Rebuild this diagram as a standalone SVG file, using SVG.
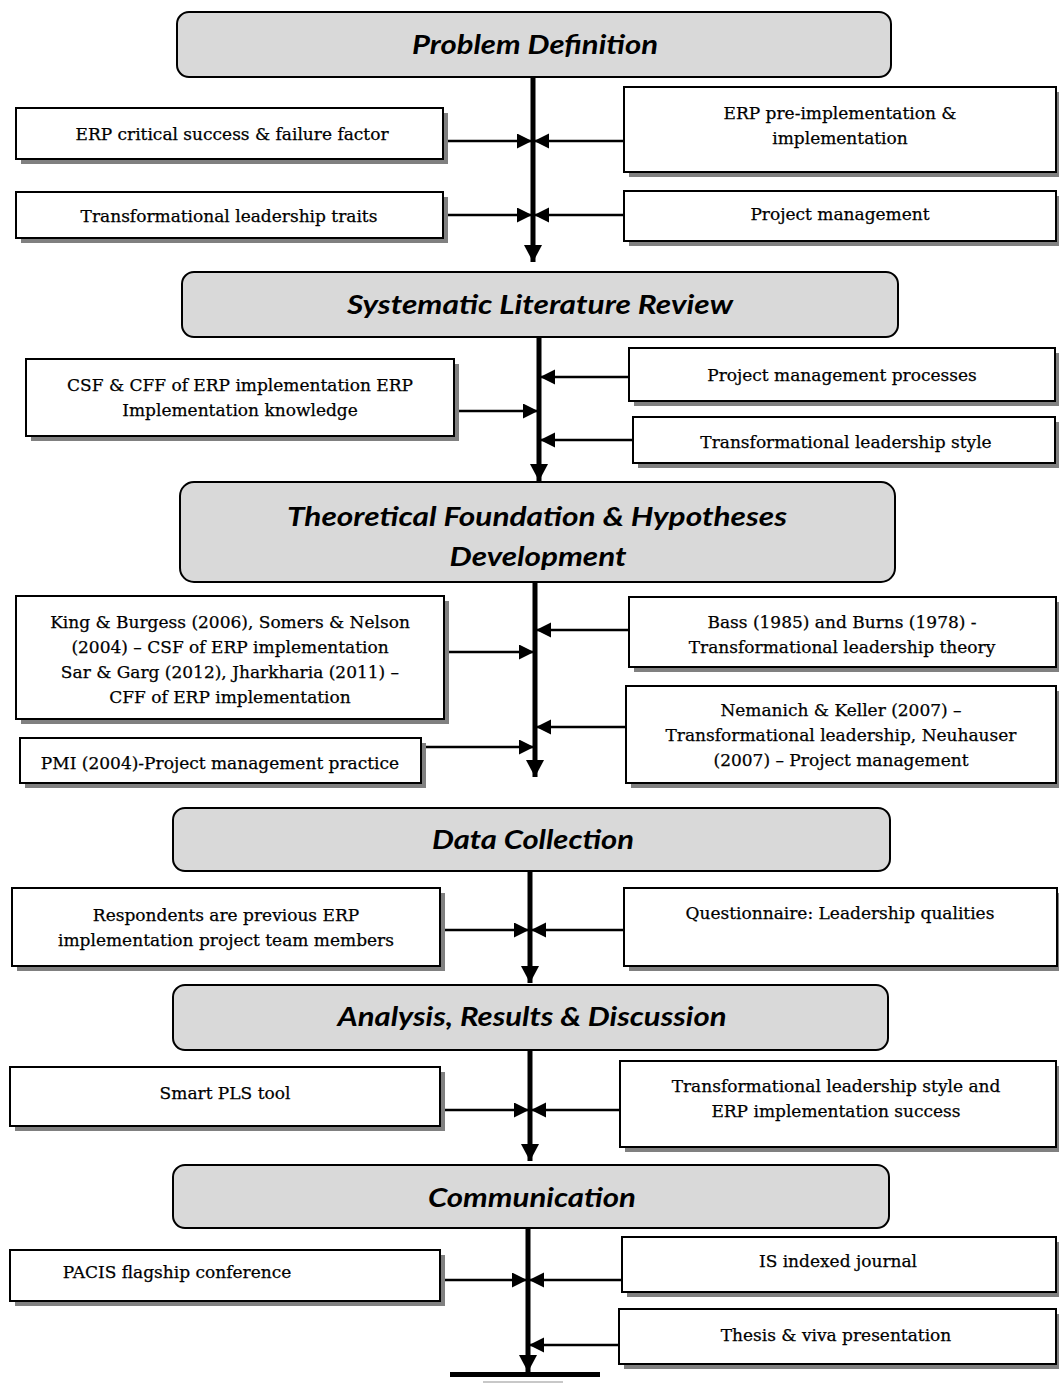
<svg xmlns="http://www.w3.org/2000/svg" width="1059" height="1383" viewBox="0 0 1059 1383">
<style>
.stage{fill:#d9d9d9;stroke:#000;stroke-width:2}
.stxt{font-family:Lato,"Open Sans",sans-serif;font-weight:bold;font-style:italic;font-size:27px;fill:#000;text-anchor:middle}
.shadow{fill:#808080}
.box{fill:#fff;stroke:#000;stroke-width:2}
.btxt{font-family:"DejaVu Serif","Liberation Serif",serif;font-size:17px;fill:#000;stroke:#000;stroke-width:0.25;text-anchor:middle}
.h{stroke:#000;stroke-width:2.5;fill:none;marker-end:url(#ah)}
.v{stroke:#000;stroke-width:5;fill:none;marker-end:url(#av)}
</style>
<defs>
<marker id="ah" markerUnits="userSpaceOnUse" markerWidth="16" markerHeight="16" refX="15" refY="7.5" orient="auto">
<path d="M0,0 L15,7.5 L0,15 z" fill="#000"/>
</marker>
<marker id="av" markerUnits="userSpaceOnUse" markerWidth="20" markerHeight="20" refX="17" refY="9" orient="auto">
<path d="M0,0 L17,9 L0,18 z" fill="#000"/>
</marker>
</defs>

<g id="connectors">
<line class="v" x1="533" y1="77" x2="533" y2="262"/>
<line class="h" x1="443" y1="141" x2="532" y2="141"/>
<line class="h" x1="624" y1="141" x2="534" y2="141"/>
<line class="h" x1="443" y1="215" x2="532" y2="215"/>
<line class="h" x1="624" y1="215" x2="534" y2="215"/>

<line class="v" x1="539" y1="337" x2="539" y2="481"/>
<line class="h" x1="454" y1="411" x2="538" y2="411"/>
<line class="h" x1="629" y1="377" x2="540" y2="377"/>
<line class="h" x1="633" y1="440" x2="540" y2="440"/>

<line class="v" x1="535" y1="582" x2="535" y2="777"/>
<line class="h" x1="444" y1="652" x2="534" y2="652"/>
<line class="h" x1="421" y1="747" x2="534" y2="747"/>
<line class="h" x1="629" y1="630" x2="536" y2="630"/>
<line class="h" x1="626" y1="727" x2="536" y2="727"/>

<line class="v" x1="530" y1="871" x2="530" y2="983"/>
<line class="h" x1="440" y1="930" x2="529" y2="930"/>
<line class="h" x1="624" y1="930" x2="531" y2="930"/>

<line class="v" x1="530" y1="1050" x2="530" y2="1161"/>
<line class="h" x1="440" y1="1110" x2="529" y2="1110"/>
<line class="h" x1="620" y1="1110" x2="531" y2="1110"/>

<line class="v" x1="528" y1="1228" x2="528" y2="1372"/>
<line class="h" x1="440" y1="1280" x2="527" y2="1280"/>
<line class="h" x1="622" y1="1280" x2="529" y2="1280"/>
<line class="h" x1="619" y1="1345" x2="529" y2="1345"/>
<rect x="450" y="1372" width="150" height="5" fill="#000"/>
<line x1="483" y1="1382" x2="563" y2="1382" stroke="#c8c8c8" stroke-width="2"/>
</g>

<g id="problem-definition">
<rect class="stage" x="177" y="12" width="714" height="65" rx="12"/>
<text class="stxt" x="535" y="54" textLength="246" lengthAdjust="spacingAndGlyphs">Problem Definition</text>
</g>
<g id="erp-csf-cff">
<rect class="shadow" x="21" y="113" width="427" height="51"/>
<rect class="box" x="16" y="108" width="427" height="51"/>
<text class="btxt" x="232" y="140">ERP critical success &amp; failure factor</text>
</g>
<g id="erp-pre-impl">
<rect class="shadow" x="629" y="92" width="432" height="85"/>
<rect class="box" x="624" y="87" width="432" height="85"/>
<text class="btxt" x="840" y="119">ERP pre-implementation &amp;</text>
<text class="btxt" x="840" y="144">implementation</text>
</g>
<g id="tl-traits">
<rect class="shadow" x="21" y="197" width="427" height="46"/>
<rect class="box" x="16" y="192" width="427" height="46"/>
<text class="btxt" x="229" y="222">Transformational leadership traits</text>
</g>
<g id="project-management">
<rect class="shadow" x="629" y="196" width="432" height="50"/>
<rect class="box" x="624" y="191" width="432" height="50"/>
<text class="btxt" x="840" y="220">Project management</text>
</g>

<g id="systematic-literature-review">
<rect class="stage" x="182" y="272" width="716" height="65" rx="12"/>
<text class="stxt" x="540" y="314" textLength="386" lengthAdjust="spacingAndGlyphs">Systematic Literature Review</text>
</g>
<g id="csf-cff-knowledge">
<rect class="shadow" x="31" y="364" width="428" height="77"/>
<rect class="box" x="26" y="359" width="428" height="77"/>
<text class="btxt" x="240" y="391">CSF &amp; CFF of ERP implementation ERP</text>
<text class="btxt" x="240" y="416">Implementation knowledge</text>
</g>
<g id="pm-processes">
<rect class="shadow" x="634" y="353" width="426" height="53"/>
<rect class="box" x="629" y="348" width="426" height="53"/>
<text class="btxt" x="842" y="381">Project management processes</text>
</g>
<g id="tl-style">
<rect class="shadow" x="638" y="422" width="422" height="46"/>
<rect class="box" x="633" y="417" width="422" height="46"/>
<text class="btxt" x="846" y="448">Transformational leadership style</text>
</g>

<g id="theoretical-foundation">
<rect class="stage" x="180" y="482" width="715" height="100" rx="14"/>
<text class="stxt" x="537" y="526" textLength="500" lengthAdjust="spacingAndGlyphs">Theoretical Foundation &amp; Hypotheses</text>
<text class="stxt" x="538" y="566" textLength="177" lengthAdjust="spacingAndGlyphs">Development</text>
</g>
<g id="csf-cff-refs">
<rect class="shadow" x="21" y="601" width="428" height="123"/>
<rect class="box" x="16" y="596" width="428" height="123"/>
<text class="btxt" x="230" y="628">King &amp; Burgess (2006), Somers &amp; Nelson</text>
<text class="btxt" x="230" y="653">(2004) – CSF of ERP implementation</text>
<text class="btxt" x="230" y="678">Sar &amp; Garg (2012), Jharkharia (2011) –</text>
<text class="btxt" x="230" y="703">CFF of ERP implementation</text>
</g>
<g id="pmi">
<rect class="shadow" x="25" y="743" width="401" height="45"/>
<rect class="box" x="20" y="738" width="401" height="45"/>
<text class="btxt" x="220" y="769">PMI (2004)-Project management practice</text>
</g>
<g id="bass-burns">
<rect class="shadow" x="634" y="602" width="427" height="70"/>
<rect class="box" x="629" y="597" width="427" height="70"/>
<text class="btxt" x="842" y="628">Bass (1985) and Burns (1978) -</text>
<text class="btxt" x="842" y="653">Transformational leadership theory</text>
</g>
<g id="nemanich-neuhauser">
<rect class="shadow" x="631" y="691" width="430" height="97"/>
<rect class="box" x="626" y="686" width="430" height="97"/>
<text class="btxt" x="841" y="716">Nemanich &amp; Keller (2007) –</text>
<text class="btxt" x="841" y="741">Transformational leadership, Neuhauser</text>
<text class="btxt" x="841" y="766">(2007) – Project management</text>
</g>

<g id="data-collection">
<rect class="stage" x="173" y="808" width="717" height="63" rx="12"/>
<text class="stxt" x="533" y="849" textLength="202" lengthAdjust="spacingAndGlyphs">Data Collection</text>
</g>
<g id="respondents">
<rect class="shadow" x="17" y="893" width="428" height="78"/>
<rect class="box" x="12" y="888" width="428" height="78"/>
<text class="btxt" x="226" y="921">Respondents are previous ERP</text>
<text class="btxt" x="226" y="946">implementation project team members</text>
</g>
<g id="questionnaire">
<rect class="shadow" x="629" y="893" width="433" height="78"/>
<rect class="box" x="624" y="888" width="433" height="78"/>
<text class="btxt" x="840" y="919">Questionnaire: Leadership qualities</text>
</g>

<g id="analysis">
<rect class="stage" x="173" y="985" width="715" height="65" rx="12"/>
<text class="stxt" x="532" y="1026" textLength="389" lengthAdjust="spacingAndGlyphs">Analysis, Results &amp; Discussion</text>
</g>
<g id="smart-pls">
<rect class="shadow" x="15" y="1072" width="430" height="59"/>
<rect class="box" x="10" y="1067" width="430" height="59"/>
<text class="btxt" x="225" y="1099">Smart PLS tool</text>
</g>
<g id="tl-erp-success">
<rect class="shadow" x="625" y="1066" width="436" height="86"/>
<rect class="box" x="620" y="1061" width="436" height="86"/>
<text class="btxt" x="836" y="1092">Transformational leadership style and</text>
<text class="btxt" x="836" y="1117">ERP implementation success</text>
</g>

<g id="communication">
<rect class="stage" x="173" y="1165" width="716" height="63" rx="12"/>
<text class="stxt" x="532" y="1207" textLength="208" lengthAdjust="spacingAndGlyphs">Communication</text>
</g>
<g id="pacis">
<rect class="shadow" x="15" y="1255" width="430" height="51"/>
<rect class="box" x="10" y="1250" width="430" height="51"/>
<text class="btxt" x="177" y="1278">PACIS flagship conference</text>
</g>
<g id="is-journal">
<rect class="shadow" x="627" y="1242" width="434" height="55"/>
<rect class="box" x="622" y="1237" width="434" height="55"/>
<text class="btxt" x="838" y="1267">IS indexed journal</text>
</g>
<g id="thesis-viva">
<rect class="shadow" x="624" y="1314" width="437" height="55"/>
<rect class="box" x="619" y="1309" width="437" height="55"/>
<text class="btxt" x="836" y="1341">Thesis &amp; viva presentation</text>
</g>
</svg>
